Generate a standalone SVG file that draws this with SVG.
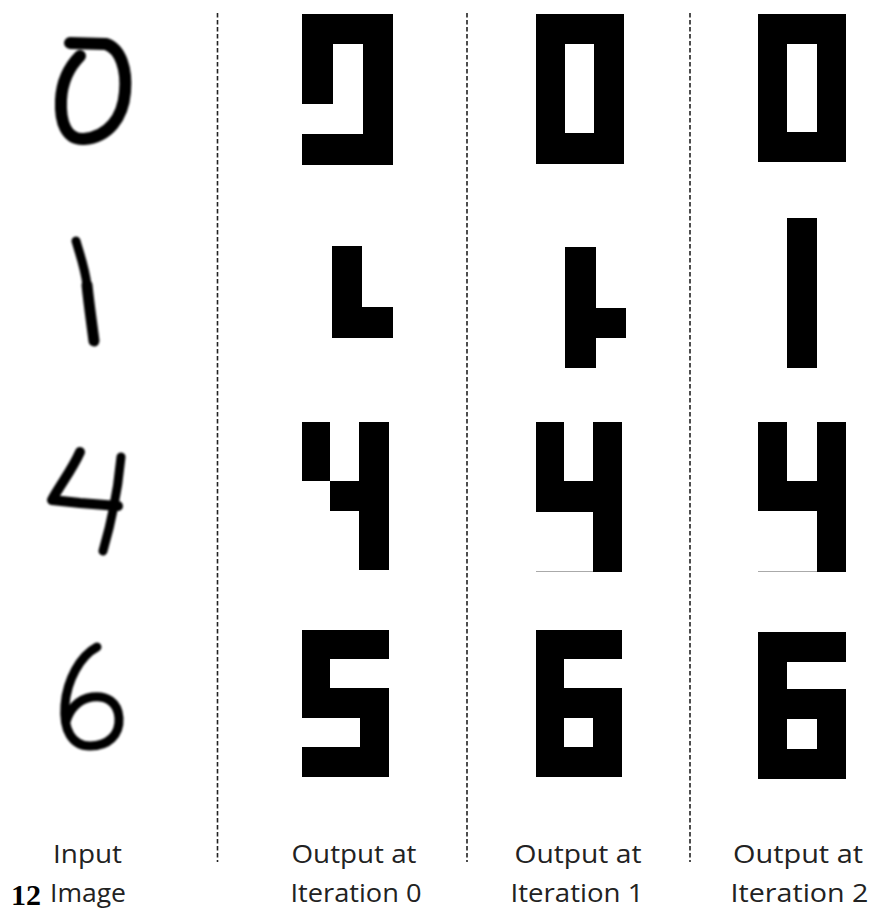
<svg xmlns="http://www.w3.org/2000/svg" width="872" height="913" viewBox="0 0 872 913">
<style>
.blk{fill:#000;fill-rule:evenodd}
.hand{fill:none;stroke:#000;stroke-linecap:round;stroke-linejoin:round}
.sep{stroke:#222;stroke-width:1.6;stroke-dasharray:4.5 2.5;fill:none}
.faint{stroke:#aaa;stroke-width:1;fill:none}
.lbl{font-family:"Open Sans","Liberation Sans",sans-serif;font-size:25px;fill:#222;text-anchor:middle}
.num{font-family:"Liberation Serif","DejaVu Serif",serif;font-size:30px;font-weight:bold;fill:#000}
</style>
<defs>
<filter id="soft" x="-10%" y="-10%" width="120%" height="120%"><feGaussianBlur stdDeviation="0.8"/></filter>
</defs>
<rect width="872" height="913" fill="#fff"/>
<g id="separators">
<line class="sep" x1="217.5" y1="13" x2="217.5" y2="862"/>
<line class="sep" x1="467" y1="13" x2="467" y2="862"/>
<line class="sep" x1="690" y1="13" x2="690" y2="862"/>
</g>
<g id="input-column" filter="url(#soft)">
<g id="input-0"><path class="hand" stroke-width="12" d="M70 43 L106 44 C121 49 127 70 125 92 C123 118 108 137 84 139 C66 140 60 122 61 100 C62 80 70 66 80 56"/></g>
<g id="input-1"><path class="hand" stroke-width="9" d="M76 241 C80 255 85 268 87 285"/><path class="hand" stroke-width="11" d="M87 285 C89 305 92 325 94 341"/></g>
<g id="input-4"><path class="hand" stroke-width="10" d="M80 452 C72 470 60 485 52 500 L80 503 L118 506"/><path class="hand" stroke-width="9" d="M121 457 C118 490 112 520 103 551"/></g>
<g id="input-6"><path class="hand" stroke-width="9" d="M97 647 C80 656 67 680 65 705 C63 730 72 746 90 746 C108 746 120 735 119 718 C118 702 106 695 92 697 C78 699 69 710 66 722"/></g>
</g>
<g id="iteration-0">
<g id="it0-0"><path class="blk" d="M302 14 H393 V165 H302 V134 H363 V44 H333 V104 H302 Z"/></g>
<g id="it0-1"><path class="blk" d="M332 246 H362 V307 H393 V338 H332 Z"/></g>
<g id="it0-4"><path class="blk" d="M302 422 H330 V481 H302 Z M330 481 H359 V422 H389 V570 H359 V511 H330 Z"/></g>
<g id="it0-6"><path class="blk" d="M302 630 H389 V659 H330 V688 H389 V777 H302 V747 H360 V718 H302 Z"/></g>
</g>
<g id="iteration-1">
<g id="it1-0"><path class="blk" d="M536 14 H624 V164 H536 Z M565 44 V133 H594 V44 Z"/></g>
<g id="it1-1"><path class="blk" d="M565 247 H596 V308 H626 V338 H596 V368 H565 Z"/></g>
<g id="it1-4"><path class="blk" d="M536 422 H564 V481 H593 V422 H622 V572 H593 V512 H536 Z"/><line class="faint" x1="536" y1="571.5" x2="593" y2="571.5"/></g>
<g id="it1-6"><path class="blk" d="M536 630 H622 V659 H564 V688 H622 V777 H536 Z M564 718 V747 H593 V718 Z"/></g>
</g>
<g id="iteration-2">
<g id="it2-0"><path class="blk" d="M758 14 H846 V162 H758 Z M787 44 V132 H817 V44 Z"/></g>
<g id="it2-1"><path class="blk" d="M787 218 H817 V368 H787 Z"/></g>
<g id="it2-4"><path class="blk" d="M758 422 H787 V481 H817 V422 H846 V572 H817 V511 H758 Z"/><line class="faint" x1="758" y1="571.5" x2="817" y2="571.5"/></g>
<g id="it2-6"><path class="blk" d="M758 632 H846 V662 H787 V689 H846 V779 H758 Z M787 719 V749 H817 V719 Z"/></g>
</g>
<g id="labels">
<text class="lbl" x="87.5" y="863" textLength="69" lengthAdjust="spacingAndGlyphs">Input</text>
<text class="lbl" x="88" y="902" textLength="76" lengthAdjust="spacingAndGlyphs">Image</text>
<text class="num" x="11" y="905">12</text>
<text class="lbl" x="354" y="863" textLength="125" lengthAdjust="spacingAndGlyphs">Output at</text>
<text class="lbl" x="356" y="902" textLength="131" lengthAdjust="spacingAndGlyphs">Iteration 0</text>
<text class="lbl" x="578" y="863" textLength="127" lengthAdjust="spacingAndGlyphs">Output at</text>
<text class="lbl" x="577" y="902" textLength="133" lengthAdjust="spacingAndGlyphs">Iteration 1</text>
<text class="lbl" x="798" y="863" textLength="130" lengthAdjust="spacingAndGlyphs">Output at</text>
<text class="lbl" x="799.5" y="902" textLength="138" lengthAdjust="spacingAndGlyphs">Iteration 2</text>
</g>
</svg>
